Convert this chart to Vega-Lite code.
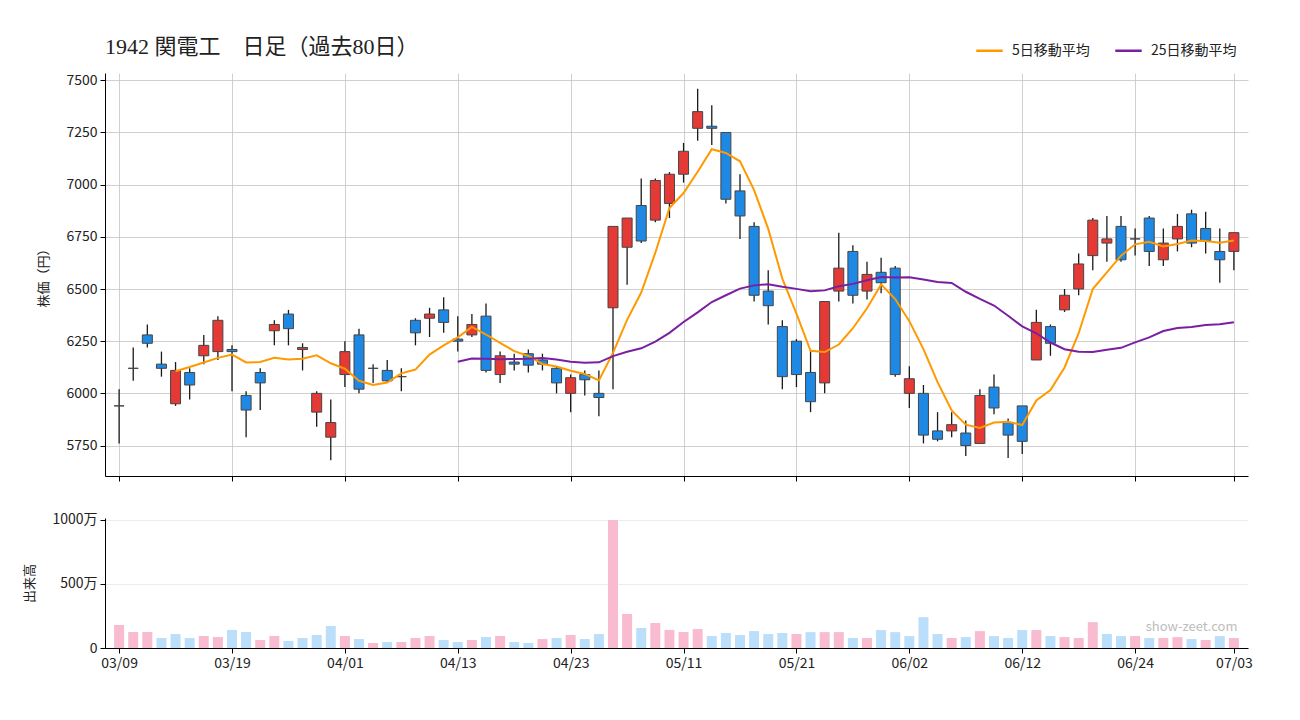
{
  "$schema": "https://vega.github.io/schema/vega-lite/v6.json",
  "background": "white",
  "padding": {"left": 23, "top": 36, "right": 10, "bottom": 10},
  "config": {
    "view": {"stroke": null},
    "font": "Noto Sans CJK JP",
    "axis": {"labelFont": "Noto Sans CJK JP", "titleFont": "Noto Sans CJK JP", "labelFontSize": 14, "titleFontSize": 13, "titleFontWeight": "normal", "labelColor": "#222", "titleColor": "#222", "domainColor": "#000", "tickColor": "#000", "tickSize": 5}
  },
  "data": {"values": [
    {"d": "03/09", "o": 5940, "h": 6020, "l": 5760, "c": 5940, "v": 1800000},
    {"d": "03/10", "o": 6120, "h": 6220, "l": 6060, "c": 6120, "v": 1250000},
    {"d": "03/11", "o": 6280, "h": 6330, "l": 6220, "c": 6240, "v": 1250000},
    {"d": "03/12", "o": 6140, "h": 6200, "l": 6080, "c": 6120, "v": 780000},
    {"d": "03/13", "o": 5950, "h": 6150, "l": 5940, "c": 6110, "v": 1090000},
    {"d": "03/16", "o": 6100, "h": 6120, "l": 5970, "c": 6040, "v": 780000},
    {"d": "03/17", "o": 6180, "h": 6280, "l": 6140, "c": 6230, "v": 940000},
    {"d": "03/18", "o": 6200, "h": 6370, "l": 6160, "c": 6350, "v": 860000},
    {"d": "03/19", "o": 6210, "h": 6230, "l": 6010, "c": 6200, "v": 1410000},
    {"d": "03/23", "o": 5990, "h": 6010, "l": 5790, "c": 5920, "v": 1250000},
    {"d": "03/24", "o": 6100, "h": 6120, "l": 5920, "c": 6050, "v": 620000},
    {"d": "03/25", "o": 6300, "h": 6350, "l": 6230, "c": 6330, "v": 940000},
    {"d": "03/26", "o": 6380, "h": 6400, "l": 6230, "c": 6310, "v": 550000},
    {"d": "03/27", "o": 6210, "h": 6240, "l": 6110, "c": 6220, "v": 780000},
    {"d": "03/30", "o": 5910, "h": 6010, "l": 5840, "c": 6000, "v": 1020000},
    {"d": "03/31", "o": 5790, "h": 5970, "l": 5680, "c": 5860, "v": 1720000},
    {"d": "04/01", "o": 6090, "h": 6250, "l": 6030, "c": 6200, "v": 940000},
    {"d": "04/02", "o": 6280, "h": 6310, "l": 6000, "c": 6020, "v": 700000},
    {"d": "04/03", "o": 6120, "h": 6140, "l": 6050, "c": 6120, "v": 390000},
    {"d": "04/06", "o": 6110, "h": 6160, "l": 6050, "c": 6060, "v": 470000},
    {"d": "04/07", "o": 6080, "h": 6120, "l": 6010, "c": 6080, "v": 470000},
    {"d": "04/08", "o": 6350, "h": 6360, "l": 6230, "c": 6290, "v": 780000},
    {"d": "04/09", "o": 6360, "h": 6410, "l": 6270, "c": 6380, "v": 940000},
    {"d": "04/10", "o": 6400, "h": 6460, "l": 6290, "c": 6340, "v": 620000},
    {"d": "04/13", "o": 6260, "h": 6370, "l": 6200, "c": 6250, "v": 470000},
    {"d": "04/14", "o": 6280, "h": 6380, "l": 6270, "c": 6330, "v": 620000},
    {"d": "04/15", "o": 6370, "h": 6430, "l": 6100, "c": 6110, "v": 860000},
    {"d": "04/16", "o": 6090, "h": 6200, "l": 6050, "c": 6180, "v": 940000},
    {"d": "04/17", "o": 6150, "h": 6190, "l": 6110, "c": 6140, "v": 470000},
    {"d": "04/20", "o": 6190, "h": 6210, "l": 6100, "c": 6135, "v": 390000},
    {"d": "04/21", "o": 6160, "h": 6190, "l": 6110, "c": 6140, "v": 700000},
    {"d": "04/22", "o": 6120, "h": 6130, "l": 6000, "c": 6050, "v": 780000},
    {"d": "04/23", "o": 6000, "h": 6090, "l": 5910, "c": 6075, "v": 1020000},
    {"d": "04/24", "o": 6090, "h": 6110, "l": 5990, "c": 6065, "v": 700000},
    {"d": "04/27", "o": 6000, "h": 6110, "l": 5890, "c": 5980, "v": 1090000},
    {"d": "04/28", "o": 6410, "h": 6800, "l": 6020, "c": 6800, "v": 10000000},
    {"d": "04/30", "o": 6700, "h": 6840, "l": 6520, "c": 6840, "v": 2660000},
    {"d": "05/01", "o": 6900, "h": 7030, "l": 6720, "c": 6730, "v": 1560000},
    {"d": "05/07", "o": 6830, "h": 7030, "l": 6820, "c": 7020, "v": 1950000},
    {"d": "05/08", "o": 6910, "h": 7060, "l": 6840, "c": 7050, "v": 1410000},
    {"d": "05/11", "o": 7050, "h": 7200, "l": 7010, "c": 7160, "v": 1250000},
    {"d": "05/12", "o": 7270, "h": 7460, "l": 7210, "c": 7350, "v": 1480000},
    {"d": "05/13", "o": 7280, "h": 7380, "l": 7190, "c": 7270, "v": 930000},
    {"d": "05/14", "o": 7250, "h": 7250, "l": 6910, "c": 6930, "v": 1170000},
    {"d": "05/15", "o": 6970, "h": 7050, "l": 6740, "c": 6850, "v": 1010000},
    {"d": "05/18", "o": 6800, "h": 6820, "l": 6440, "c": 6470, "v": 1320000},
    {"d": "05/19", "o": 6490, "h": 6590, "l": 6330, "c": 6420, "v": 1090000},
    {"d": "05/20", "o": 6320, "h": 6350, "l": 6020, "c": 6080, "v": 1170000},
    {"d": "05/21", "o": 6250, "h": 6260, "l": 6030, "c": 6090, "v": 1090000},
    {"d": "05/22", "o": 6100, "h": 6210, "l": 5910, "c": 5960, "v": 1240000},
    {"d": "05/25", "o": 6050, "h": 6440, "l": 6000, "c": 6440, "v": 1240000},
    {"d": "05/26", "o": 6490, "h": 6770, "l": 6440, "c": 6600, "v": 1240000},
    {"d": "05/27", "o": 6680, "h": 6710, "l": 6430, "c": 6470, "v": 780000},
    {"d": "05/28", "o": 6490, "h": 6630, "l": 6450, "c": 6570, "v": 780000},
    {"d": "05/29", "o": 6580, "h": 6650, "l": 6480, "c": 6530, "v": 1400000},
    {"d": "06/01", "o": 6600, "h": 6610, "l": 6080, "c": 6090, "v": 1240000},
    {"d": "06/02", "o": 6000, "h": 6130, "l": 5930, "c": 6070, "v": 930000},
    {"d": "06/03", "o": 6000, "h": 6040, "l": 5760, "c": 5800, "v": 2410000},
    {"d": "06/04", "o": 5820, "h": 5910, "l": 5770, "c": 5780, "v": 1090000},
    {"d": "06/05", "o": 5820, "h": 5910, "l": 5790, "c": 5850, "v": 780000},
    {"d": "06/08", "o": 5810, "h": 5870, "l": 5700, "c": 5750, "v": 850000},
    {"d": "06/09", "o": 5760, "h": 6020, "l": 5760, "c": 5990, "v": 1320000},
    {"d": "06/10", "o": 6030, "h": 6090, "l": 5900, "c": 5930, "v": 930000},
    {"d": "06/11", "o": 5860, "h": 5880, "l": 5690, "c": 5800, "v": 780000},
    {"d": "06/12", "o": 5940, "h": 5940, "l": 5710, "c": 5770, "v": 1400000},
    {"d": "06/15", "o": 6160, "h": 6400, "l": 6160, "c": 6340, "v": 1400000},
    {"d": "06/16", "o": 6320, "h": 6330, "l": 6180, "c": 6240, "v": 930000},
    {"d": "06/17", "o": 6400, "h": 6500, "l": 6390, "c": 6470, "v": 850000},
    {"d": "06/18", "o": 6500, "h": 6670, "l": 6470, "c": 6620, "v": 780000},
    {"d": "06/19", "o": 6660, "h": 6840, "l": 6590, "c": 6830, "v": 2020000},
    {"d": "06/22", "o": 6720, "h": 6850, "l": 6630, "c": 6740, "v": 1090000},
    {"d": "06/23", "o": 6800, "h": 6850, "l": 6630, "c": 6640, "v": 930000},
    {"d": "06/24", "o": 6740, "h": 6790, "l": 6660, "c": 6740, "v": 930000},
    {"d": "06/25", "o": 6840, "h": 6850, "l": 6610, "c": 6680, "v": 780000},
    {"d": "06/26", "o": 6640, "h": 6790, "l": 6610, "c": 6720, "v": 780000},
    {"d": "06/29", "o": 6740, "h": 6860, "l": 6680, "c": 6800, "v": 850000},
    {"d": "06/30", "o": 6860, "h": 6880, "l": 6700, "c": 6720, "v": 700000},
    {"d": "07/01", "o": 6790, "h": 6870, "l": 6670, "c": 6730, "v": 620000},
    {"d": "07/02", "o": 6680, "h": 6790, "l": 6530, "c": 6640, "v": 930000},
    {"d": "07/03", "o": 6680, "h": 6770, "l": 6590, "c": 6770, "v": 780000}
  ]},
  "spacing": 30,
  "vconcat": [
    {
      "width": 1143,
      "height": 403,
      "title": {"text": "1942 関電工　日足（過去80日）", "anchor": "start", "frame": "group", "font": "Liberation Serif, Noto Sans CJK JP", "fontSize": 22, "fontWeight": "normal", "color": "#222", "offset": 14},
      "encoding": {
        "x": {"field": "d", "type": "ordinal", "sort": null, "scale": {"type": "point", "padding": 1},
          "axis": {"title": null, "labels": false, "values": ["03/09", "03/19", "04/01", "04/13", "04/23", "05/11", "05/21", "06/02", "06/12", "06/24", "07/03"], "grid": true, "gridColor": "#c4c4c4", "gridWidth": 0.8}}
      },
      "layer": [
        {
          "mark": {"type": "rule", "color": "#1a1a1a", "strokeWidth": 1.3},
          "encoding": {
            "y": {"field": "l", "type": "quantitative", "scale": {"domain": [5604, 7535], "zero": false, "nice": false},
              "axis": {"title": "株価（円）", "format": "d", "values": [5750, 6000, 6250, 6500, 6750, 7000, 7250, 7500], "grid": true, "gridColor": "#c4c4c4", "gridWidth": 0.8, "labelPadding": 3, "titlePadding": 15}},
            "y2": {"field": "h"}
          }
        },
        {
          "mark": {"type": "bar", "width": 10, "stroke": "#454545", "strokeWidth": 1},
          "encoding": {
            "y": {"field": "o", "type": "quantitative"},
            "y2": {"field": "c"},
            "fill": {"condition": {"test": "datum.c > datum.o", "value": "#E53935"}, "value": "#1E88E5"}
          }
        },
        {
          "transform": [
            {"window": [{"op": "mean", "field": "c", "as": "m"}, {"op": "count", "as": "n"}], "frame": [-4, 0], "sort": [{"field": "d"}]},
            {"filter": "datum.n >= 5"}
          ],
          "mark": {"type": "line", "strokeWidth": 2},
          "encoding": {
            "y": {"field": "m", "type": "quantitative"},
            "color": {"datum": "5日移動平均", "type": "nominal",
              "scale": {"domain": ["5日移動平均", "25日移動平均"], "range": ["#FF9900", "#7B1FA2"]},
              "legend": {"title": null, "orient": "none", "direction": "horizontal", "legendX": 870, "legendY": -37, "symbolType": "stroke", "symbolStrokeWidth": 2.5, "symbolSize": 700, "labelFontSize": 14, "labelColor": "#222", "columnPadding": 20, "labelOffset": 8}}
          }
        },
        {
          "transform": [
            {"window": [{"op": "mean", "field": "c", "as": "m"}, {"op": "count", "as": "n"}], "frame": [-24, 0], "sort": [{"field": "d"}]},
            {"filter": "datum.n >= 25"}
          ],
          "mark": {"type": "line", "strokeWidth": 2},
          "encoding": {
            "y": {"field": "m", "type": "quantitative"},
            "color": {"datum": "25日移動平均", "type": "nominal"}
          }
        }
      ]
    },
    {
      "width": 1143,
      "height": 130,
      "layer": [
        {
          "transform": [
            {"window": [{"op": "lag", "field": "c", "as": "pc"}], "sort": [{"field": "d"}]}
          ],
          "mark": {"type": "bar", "width": 10},
          "encoding": {
            "x": {"field": "d", "type": "ordinal", "sort": null, "scale": {"type": "point", "padding": 1},
              "axis": {"title": null, "labelAngle": 0, "values": ["03/09", "03/19", "04/01", "04/13", "04/23", "05/11", "05/21", "06/02", "06/12", "06/24", "07/03"], "grid": false, "labelPadding": 3}},
            "y": {"field": "v", "type": "quantitative", "scale": {"domain": [0, 10150000], "nice": false},
              "axis": {"title": "出来高", "values": [0, 5000000, 10000000], "labelExpr": "datum.value == 0 ? '0' : (datum.value / 10000) + '万'", "grid": true, "gridColor": "#ececec", "labelPadding": 3, "titlePadding": 15}},
            "fill": {"condition": {"test": "datum.pc == null || datum.c >= datum.pc", "value": "#F8BBD0"}, "value": "#BBDEFB"}
          }
        },
        {
          "data": {"values": [{"t": "show-zeet.com"}]},
          "mark": {"type": "text", "color": "#bdbdbd", "fontSize": 13, "font": "Noto Sans CJK JP", "align": "center", "baseline": "middle"},
          "encoding": {
            "x": {"datum": "06/30", "type": "ordinal"},
            "y": {"datum": 1650000, "type": "quantitative"},
            "text": {"field": "t"}
          }
        }
      ]
    }
  ]
}
